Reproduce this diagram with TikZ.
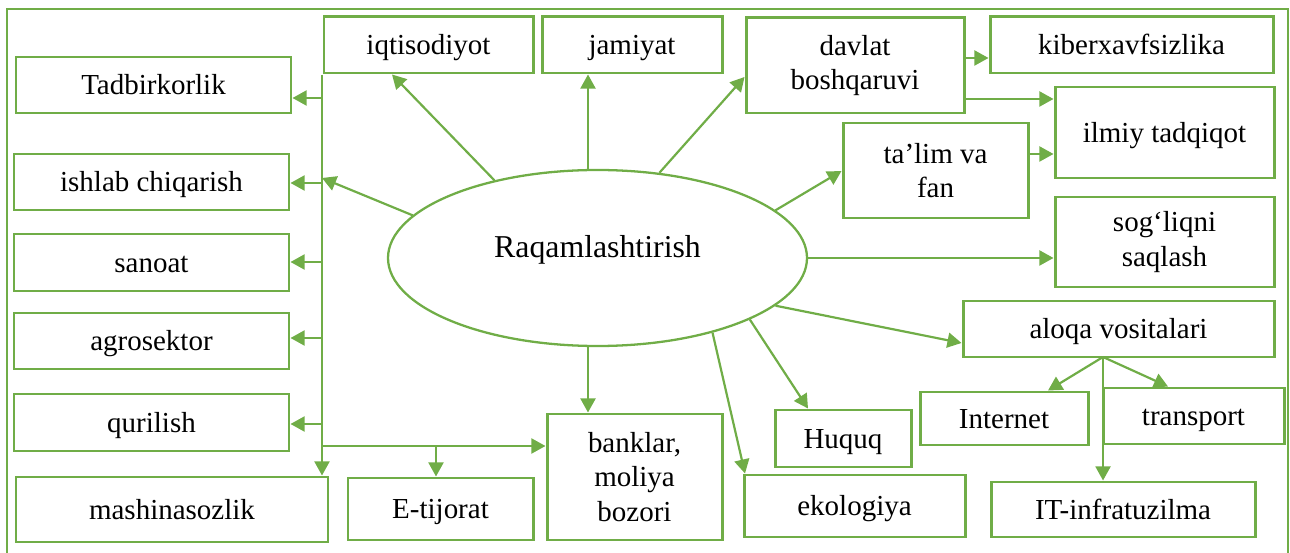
\documentclass[tikz,border=0pt]{standalone}
\usepackage{fontspec}
\setmainfont{Liberation Serif}
\usetikzlibrary{shapes.geometric,arrows.meta}
\definecolor{gr}{HTML}{70AD47}
\begin{document}
\begin{tikzpicture}[x=0.02cm,y=-0.02cm,
  box/.style={draw=gr,line width=1.7pt,inner sep=0pt,font=\fontsize{16.5}{19.6}\selectfont,align=center},
  sl/.style={text height=11pt,text depth=0pt},
  sz/.style 2 args={minimum width=#1*0.02cm,minimum height=#2*0.02cm},
  arr/.style={draw=gr,line width=1.25pt,-{Triangle[length=8pt,width=8.5pt]}},
  frame/.style={draw=gr,line width=1.5pt}]
\useasboundingbox (0,0) rectangle (1290,553);
\draw[frame] (7,556) -- (7,9) -- (1288,9) -- (1288,556);
% ellipse
\node[ellipse,draw=gr,line width=1.3pt,inner sep=0pt,sz={419}{176},font=\fontsize{18.1}{21}\selectfont] (ell) at (597.5,258) {\raisebox{0pt}[0pt][0pt]{Raqamlashtirish}};
% left column
\node[box,sl,sz={275}{56}] (tad) at (153.5,85) {Tadbirkorlik};
\node[box,sl,sz={275}{56}] (ish) at (151.5,182) {ishlab chiqarish};
\node[box,sl,sz={275}{57}] (san) at (151.5,262.5) {sanoat};
\node[box,sl,sz={275}{56}] (agr) at (151.5,341) {agrosektor};
\node[box,sl,sz={275}{57}] (qur) at (151.5,422.5) {qurilish};
\node[box,sl,sz={312}{65}] (mash) at (172,509.5) {mashinasozlik};
% bottom row
\node[box,sl,sz={185}{62}] (etij) at (440.5,509) {E-tijorat};
\node[box,sz={175}{126}] (bank) at (634.5,477) {banklar,\\moliya\\bozori};
\node[box,sl,sz={221}{62}] (eko) at (854.5,506) {ekologiya};
\node[box,sl,sz={136}{57}] (huq) at (843,438.5) {Huquq};
\node[box,sl,sz={168}{53}] (int) at (1004,418.5) {Internet};
\node[box,sl,sz={181}{56}] (tra) at (1193.5,416) {transport};
\node[box,sl,sz={264}{55}] (it) at (1123,509.5) {IT-infratuzilma};
\node[box,sl,sz={311}{56}] (alo) at (1118.5,329) {aloqa vositalari};
% right column
\node[box,sz={219}{90}] (sog) at (1164.5,242) {sog‘liqni\\saqlash};
\node[box,sl,sz={219}{91}] (ilm) at (1164.5,132.5) {ilmiy tadqiqot};
\node[box,sz={185}{95}] (tal) at (935.5,170.5) {ta’lim va\\fan};
% top row
\node[box,sz={218}{95}] (dav) at (855,65.5) {davlat\\boshqaruvi};
\node[box,sl,sz={283}{56}] (kib) at (1131.5,45) {kiberxavfsizlika};
\node[box,sl,sz={180}{56}] (jam) at (632,45) {jamiyat};
\node[box,sl,sz={209}{56}] (iqt) at (428.5,45) {iqtisodiyot};
% bus on the left
\coordinate (bt) at (322,75);
\draw[arr] (bt) -- (bt |- mash.north);
\draw[arr] (bt |- 0,98) -- (tad.east |- 0,98);
\draw[arr] (bt |- 0,183) -- (ish.east |- 0,183);
\draw[arr] (bt |- 0,262) -- (san.east |- 0,262);
\draw[arr] (bt |- 0,338) -- (agr.east |- 0,338);
\draw[arr] (bt |- 0,424) -- (qur.east |- 0,424);
\draw[arr] (bt |- 0,446) -- (bank.west |- 0,446);
\draw[arr] (436,446) -- (etij.north -| 436,0);
% from ellipse
\draw[arr] (ell.167) -- (bt |- 0,178);
\draw[arr] (ell.143) -- (iqt.south -| 392,0);
\draw[arr] (ell.north -| 588,0) -- (jam.south -| 588,0);
\draw[arr] (ell.54) -- (dav.west |- 0,77);
\draw[arr] (ell.15.5) -- (tal.west |- 0,171);
\draw[arr] (ell.east) -- (ell.east -| sog.west);
\draw[arr] (ell.-15.3) -- (alo.west |- 0,343);
\draw[arr] (ell.-22.4) -- (huq.north -| 808,0);
\draw[arr] (ell.-33.5) -- (eko.north -| 745,0);
\draw[arr] (ell.south -| 588,0) -- (bank.north -| 588,0);
% right side links
\draw[arr] (dav.east |- 0,58) -- (kib.west |- 0,58);
\draw[arr] (dav.east |- 0,99) -- (ilm.west |- 0,99);
\draw[arr] (tal.east |- 0,154) -- (ilm.west |- 0,154);
% aloqa branches
\coordinate (ab) at (1103,357);
\draw[arr] (ab) -- (int.north -| 1048,0);
\draw[arr] (ab) -- (tra.north -| 1168,0);
\draw[arr] (ab) -- (it.north -| 1103,0);
\end{tikzpicture}
\end{document}
